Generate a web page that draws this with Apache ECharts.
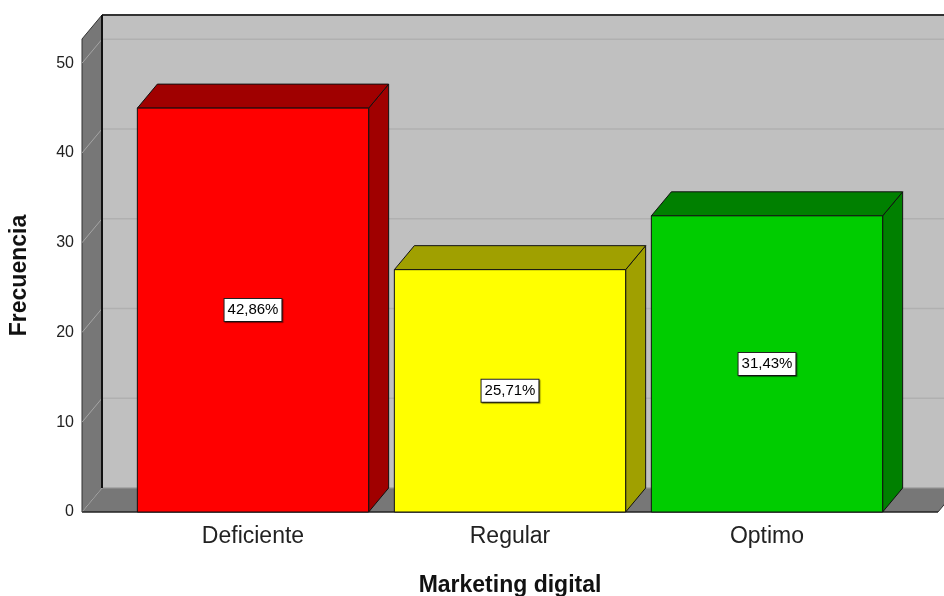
<!DOCTYPE html>
<html><head><meta charset="utf-8">
<script src="https://cdn.jsdelivr.net/npm/echarts@6/dist/echarts.min.js"></script>
<style>html,body{margin:0;padding:0;background:#fff}#c{width:944px;height:596px}</style>
</head><body><div id="c"></div>
<script>
const categories = ['Deficiente', 'Regular', 'Optimo'];
const frequencies = [45, 27, 33];
const percentLabels = ['42,86%', '25,71%', '31,43%'];
const yTicks = [0, 10, 20, 30, 40, 50];
const frontColors = ['#ff0000', '#ffff00', '#00cc00'];
const shadeColors = ['#a00000', '#a0a000', '#008000'];

const DX = 20, DY = 24;      // 3D depth offset
const WALL_EXT = 42.5;       // wall extends beyond category band area
const FONT = '"Liberation Sans", Arial, sans-serif';

const chart = echarts.init(document.getElementById('c'), null, { renderer: 'canvas' });

function renderWalls(params, api) {
  const cs = params.coordSys;
  const x0 = cs.x - WALL_EXT, x1 = cs.x + cs.width + WALL_EXT;
  const y0 = api.coord([0, 0])[1];
  const yTop = cs.y;
  const ch = [];
  ch.push({ type: 'rect', shape: { x: x0 + DX, y: yTop - DY, width: x1 - x0 + 40, height: y0 - yTop }, style: { fill: '#c0c0c0' } });
  yTicks.forEach(v => {
    const y = api.coord([0, v])[1] - DY;
    ch.push({ type: 'line', shape: { x1: x0 + DX, y1: y, x2: x1 + DX + 40, y2: y }, style: { stroke: '#b0b0b0', lineWidth: 1.5 } });
  });
  ch.push({ type: 'line', shape: { x1: x0 + DX, y1: yTop - DY, x2: x1 + DX + 40, y2: yTop - DY }, style: { stroke: '#333', lineWidth: 2 } });
  ch.push({ type: 'polygon', shape: { points: [[x0, yTop], [x0 + DX, yTop - DY], [x0 + DX, y0 - DY], [x0, y0]] }, style: { fill: '#777777', stroke: '#333', lineWidth: 1 } });
  ch.push({ type: 'polygon', shape: { points: [[x0, y0], [x0 + DX, y0 - DY], [x1 + DX, y0 - DY], [x1, y0]] }, style: { fill: '#777777' } });
  ch.push({ type: 'line', shape: { x1: x0 + DX, y1: y0 - DY, x2: x1 + DX + 40, y2: y0 - DY }, style: { stroke: '#9a9a9a', lineWidth: 1 } });
  yTicks.forEach(v => {
    const y = api.coord([0, v])[1];
    ch.push({ type: 'line', shape: { x1: x0, y1: y, x2: x0 + DX, y2: y - DY }, style: { stroke: '#a5a5a5', lineWidth: 1 } });
  });
  ch.push({ type: 'line', shape: { x1: x0 + DX, y1: yTop - DY, x2: x0 + DX, y2: y0 - DY }, style: { stroke: '#111', lineWidth: 2 } });
  ch.push({ type: 'line', shape: { x1: x0, y1: y0, x2: x1, y2: y0 }, style: { stroke: '#222', lineWidth: 1.5 } });
  ch.push({ type: 'line', shape: { x1: x1, y1: y0, x2: x1 + DX, y2: y0 - DY }, style: { stroke: '#333', lineWidth: 1 } });
  return { type: 'group', children: ch };
}

function renderBar(params, api) {
  const i = api.value(0), v = api.value(1);
  const top = api.coord([i, v]), base = api.coord([i, 0]);
  const w = api.size([1, 0])[0] * 0.9;
  const l = top[0] - w / 2, r = top[0] + w / 2, t = top[1], b = base[1];
  const idx = params.dataIndex;
  const edge = { stroke: '#111', lineWidth: 1 };
  return {
    type: 'group',
    children: [
      { type: 'polygon', shape: { points: [[r, t], [r + DX, t - DY], [r + DX, b - DY], [r, b]] }, style: Object.assign({ fill: shadeColors[idx] }, edge) },
      { type: 'polygon', shape: { points: [[l, t], [l + DX, t - DY], [r + DX, t - DY], [r, t]] }, style: Object.assign({ fill: shadeColors[idx] }, edge) },
      { type: 'rect', shape: { x: l, y: t, width: w, height: b - t }, style: Object.assign({ fill: frontColors[idx] }, edge) },
      {
        type: 'text', x: top[0], y: (t + b) / 2,
        style: {
          text: percentLabels[idx], fill: '#000', fontSize: 15, fontFamily: FONT,
          align: 'center', verticalAlign: 'middle',
          backgroundColor: '#fff', borderColor: '#222', borderWidth: 1, padding: [4, 3, 3, 3],
          shadowColor: 'rgba(0,0,0,0.45)', shadowOffsetX: 1, shadowOffsetY: 1, shadowBlur: 1
        }
      }
    ]
  };
}

chart.setOption({
  animation: false,
  grid: { left: 124.5, right: 48.5, top: 39, bottom: 84, containLabel: false, outerBoundsMode: 'none' },
  xAxis: {
    type: 'category', data: categories,
    axisLine: { show: false }, axisTick: { show: false },
    axisLabel: { fontSize: 23, color: '#222', margin: 13, fontFamily: FONT },
    name: 'Marketing digital', nameLocation: 'middle', nameGap: 62,
    nameTextStyle: { fontSize: 23, fontWeight: 'bold', color: '#111', fontFamily: FONT }
  },
  yAxis: {
    type: 'value', min: 0, max: 52.7, interval: 10, offset: 42.5,
    axisLine: { show: false }, axisTick: { show: false }, splitLine: { show: false },
    axisLabel: { fontSize: 16, color: '#222', margin: 8, fontFamily: FONT, showMaxLabel: false,
      formatter: v => (v % 10 === 0 ? String(v) : '') },
    name: 'Frecuencia', nameLocation: 'middle', nameRotate: 90, nameGap: 51,
    nameTextStyle: { fontSize: 23, fontWeight: 'bold', color: '#111', fontFamily: FONT }
  },
  series: [
    { type: 'custom', z: 1, renderItem: renderWalls, data: [[0, 0]], silent: true },
    { type: 'custom', z: 2, renderItem: renderBar, data: categories.map((c, i) => [i, frequencies[i]]) }
  ]
});
</script>
</body></html>
